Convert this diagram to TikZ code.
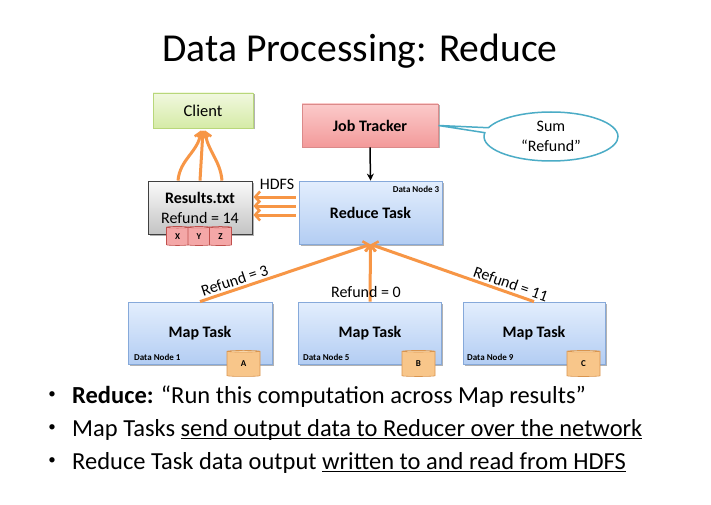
\documentclass[tikz,border=0pt]{standalone}
\usepackage{fontspec}
\setmainfont{Carlito}
\usetikzlibrary{arrows.meta,shapes.geometric,shapes.callouts,shadows,calc}
\definecolor{orangeA}{HTML}{F79646}
\definecolor{blueTop}{HTML}{E3EEFD}
\definecolor{blueBot}{HTML}{B3CDF3}
\definecolor{blueLine}{HTML}{86A9DA}
\definecolor{redTop}{HTML}{FBCACA}
\definecolor{redBot}{HTML}{F39A9A}
\definecolor{redLine}{HTML}{DB8A8A}
\definecolor{greenTop}{HTML}{F1F8DF}
\definecolor{greenBot}{HTML}{D5EBA6}
\definecolor{greenLine}{HTML}{B8D77A}
\definecolor{grayTop}{HTML}{FAFAFA}
\definecolor{grayBot}{HTML}{C4C4C4}
\definecolor{grayLine}{HTML}{404040}
\definecolor{calloutLine}{HTML}{4BACC6}
\definecolor{cylOrTop}{HTML}{FCE0B8}
\definecolor{cylOrBody}{HTML}{F8C68A}
\definecolor{cylOrLine}{HTML}{D9954F}
\definecolor{cylPkTop}{HTML}{FBD0D0}
\definecolor{cylPkBody}{HTML}{F4A7A7}
\definecolor{cylPkLine}{HTML}{C0504D}
\newlength\myulw
\newcommand\myul[1]{\settowidth{\myulw}{#1}\rlap{\rule[-3.4pt]{\myulw}{1.3pt}}#1}
\tikzset{
  shadowed/.style={drop shadow={shadow xshift=1.5pt,shadow yshift=-1.5pt,opacity=0.3,fill=black}},
  box/.style={rectangle, draw, line width=0.8pt, shadowed, inner sep=0pt},
  bluebox/.style={box, draw=blueLine, top color=blueTop, bottom color=blueBot},
  redbox/.style={box, draw=redLine, top color=redTop, bottom color=redBot},
  greenbox/.style={box, draw=greenLine, top color=greenTop, bottom color=greenBot},
  graybox/.style={box, draw=grayLine, top color=grayTop, bottom color=grayBot},
  lbl/.style={font=\fontsize{16}{19}\selectfont},
  blbl/.style={font=\fontsize{16}{19}\selectfont\bfseries},
  dn/.style={font=\fontsize{9}{10}\selectfont\bfseries, inner sep=0pt},
  cyl/.style={cylinder, shape border rotate=90, aspect=0.3, draw, line width=0.6pt,
     cylinder uses custom fill, font=\fontsize{9}{10}\selectfont\bfseries, inner sep=0pt},
  orcyl/.style={cyl, draw=cylOrLine, cylinder end fill=cylOrTop, cylinder body fill=cylOrBody,
     minimum width=33pt, minimum height=26pt},
  pkcyl/.style={cyl, draw=cylPkLine, cylinder end fill=cylPkTop, cylinder body fill=cylPkBody,
     minimum width=22pt, minimum height=19pt},
  oarrow/.style={draw=orangeA, line width=3pt, -{Straight Barb[length=5pt,width=11pt,line width=2.5pt]}},
  bullet/.style={anchor=base west, inner sep=0pt, font=\fontsize{24.5}{29}\selectfont},
  bdot/.style={anchor=center, inner sep=0pt, font=\fontsize{15}{18}\selectfont},
}
\begin{document}
\begin{tikzpicture}[x=1pt,y=-1pt]
\useasboundingbox[fill=white] (0,0) rectangle (711,505);

% title
\node[anchor=base, inner sep=0pt, font=\fontsize{39.6}{48}\selectfont] (title) at (360,62) {Data Processing: Reduce};

% boxes
\node[greenbox, minimum width=100pt, minimum height=35pt, font=\fontsize{16.5}{19}\selectfont] (client) at (203,110.5) {Client};
\node[redbox, minimum width=136pt, minimum height=43pt, blbl] (jt) at (370,125.5) {Job Tracker};
\node[bluebox, minimum width=143pt, minimum height=63pt, blbl] (reduce) at (370.5,212.5) {Reduce Task};
\node[dn, anchor=north east] (dn3) at ($(reduce.north east)+(-3,5)$) {Data Node 3};
\node[graybox, minimum width=104pt, minimum height=53pt] (results) at (200,207.5) {};
\node[blbl, inner sep=0pt] (restxt) at (200,198) {Results.txt};
\node[lbl, inner sep=0pt] (refund14) at (200,218) {Refund = 14};
\node[pkcyl] (cx) at (177.5,236.5) {X};
\node[pkcyl] (cy) at (199,236.5) {Y};
\node[pkcyl] (cz) at (220.5,236.5) {Z};
\node[lbl, inner sep=0pt] (hdfs) at (277,184) {HDFS};

% callout
\node[ellipse callout, draw=calloutLine, line width=1.5pt, fill=white,
      minimum width=134pt, minimum height=49pt, callout absolute pointer={(jt.east)},
      callout pointer arc=12, align=center, inner sep=0pt, font=\fontsize{16}{20}\selectfont] (sum) at (551,136.5) {Sum\\“Refund”};

% map tasks
\node[bluebox, minimum width=144pt, minimum height=62pt, blbl] (map1) at (200,333) {Map Task};
\node[bluebox, minimum width=143pt, minimum height=62pt, blbl] (map2) at (370,333) {Map Task};
\node[bluebox, minimum width=142pt, minimum height=62pt, blbl] (map3) at (534,333) {Map Task};
\node[dn, anchor=west] (dn1) at (134,357) {Data Node 1};
\node[dn, anchor=west] (dn5) at (303,357) {Data Node 5};
\node[dn, anchor=west] (dn9) at (467,357) {Data Node 9};
\node[orcyl] (ca) at (243.5,364) {A};
\node[orcyl] (cb) at (418.5,364) {B};
\node[orcyl] (cc) at (583.5,364) {C};

% connectors
\draw[line width=1.5pt, -{Stealth[length=7pt,width=7pt]}] (jt.south) -- (reduce.north);
\draw[oarrow] ($(reduce.west)+(-3,-15.5)$) -- ($(results.east)+(1,-10.5)$);
\draw[oarrow] ($(reduce.west)+(-3,-6.5)$) -- ($(results.east)+(1,-1.5)$);
\draw[oarrow] ($(reduce.west)+(-3,2.5)$) -- ($(results.east)+(1,7.5)$);
\draw[oarrow] ($(results.north)+(-22,0)$) to[out=85,in=-97] ($(client.south)+(-2,2)$);
\draw[oarrow] (results.north) -- ($(client.south)+(0,2)$);
\draw[oarrow] ($(results.north)+(22,0)$) to[out=95,in=-83] ($(client.south)+(2,2)$);

\draw[oarrow] (map1.north) -- node[sloped, above, pos=0.22, inner sep=2pt, lbl] {Refund = 3} (reduce.south);
\draw[oarrow] (map2.north) -- (reduce.south);
\node[lbl, inner sep=0pt] (ref0) at (366,292) {Refund = 0};
\draw[oarrow] (map3.north) -- node[sloped, above, pos=0.16, inner sep=2pt, lbl] {Refund = 11} (reduce.south);

% bullets
\node[bdot] (b1d) at (52,395) {•};
\node[bullet] (b1) at (72,403) {\textbf{Reduce:} “Run this computation across Map results”};
\node[bdot] (b2d) at (52,428) {•};
\node[bullet] (b2) at (72,436) {Map Tasks \myul{send output data to Reducer over the network}};
\node[bdot] (b3d) at (52,461) {•};
\node[bullet] (b3) at (72,469) {Reduce Task data output \myul{written to and read from HDFS}};
\end{tikzpicture}
\end{document}
